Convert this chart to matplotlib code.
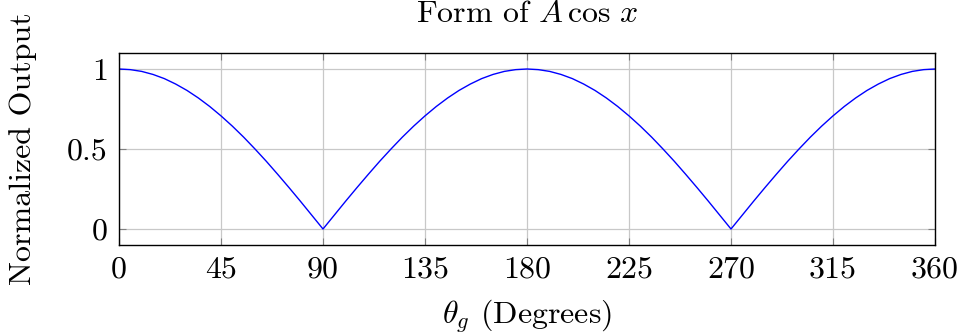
import numpy as np
import matplotlib
matplotlib.use('Agg')
import matplotlib.pyplot as plt

plt.rcParams['font.family'] = 'cmr10'
plt.rcParams['mathtext.fontset'] = 'cm'
plt.rcParams['axes.formatter.use_mathtext'] = True

# angle in degrees, read every 5 degrees
theta = list(range(0, 365, 5))
output = [1.000, 0.996, 0.985, 0.966, 0.940, 0.906, 0.866, 0.819, 0.766, 0.707,
          0.643, 0.574, 0.500, 0.423, 0.342, 0.259, 0.174, 0.087, 0.000,
          0.087, 0.174, 0.259, 0.342, 0.423, 0.500, 0.574, 0.643, 0.707,
          0.766, 0.819, 0.866, 0.906, 0.940, 0.966, 0.985, 0.996, 1.000,
          0.996, 0.985, 0.966, 0.940, 0.906, 0.866, 0.819, 0.766, 0.707,
          0.643, 0.574, 0.500, 0.423, 0.342, 0.259, 0.174, 0.087, 0.000,
          0.087, 0.174, 0.259, 0.342, 0.423, 0.500, 0.574, 0.643, 0.707,
          0.766, 0.819, 0.866, 0.906, 0.940, 0.966, 0.985, 0.996, 1.000]
xticks = [0, 45, 90, 135, 180, 225, 270, 315, 360]
yticks = [0, 0.5, 1]
yticklabels = ['0', '0.5', '1']

fig = plt.figure(figsize=(9.61, 3.36), dpi=100)
ax = fig.add_axes([119 / 961, 1 - 245 / 336, (935 - 119) / 961, (245 - 53) / 336])

ax.plot(theta, output, color='blue', lw=1.0)
ax.set_xlim(0, 360)
ax.set_ylim(-0.1, 1.1)
ax.set_xticks(xticks)
ax.set_xticklabels([str(t) for t in xticks])
ax.set_yticks(yticks)
ax.set_yticklabels(yticklabels)
ax.grid(True, color='#c8c8c8', lw=0.9)
ax.set_axisbelow(True)
ax.tick_params(direction='in', length=5, width=0.8, color='#808080',
               top=True, right=True, labelsize=23, pad=8)
for s in ax.spines.values():
    s.set_linewidth(1.0)

ax.set_title(r'Form of $A\,\cos\,x$', fontsize=23, pad=22)
ax.set_xlabel(r'$\theta_g$ (Degrees)', fontsize=23, labelpad=10)
ax.set_ylabel('Normalized Output', fontsize=23, labelpad=22)

fig.savefig('out.png', dpi=100)
